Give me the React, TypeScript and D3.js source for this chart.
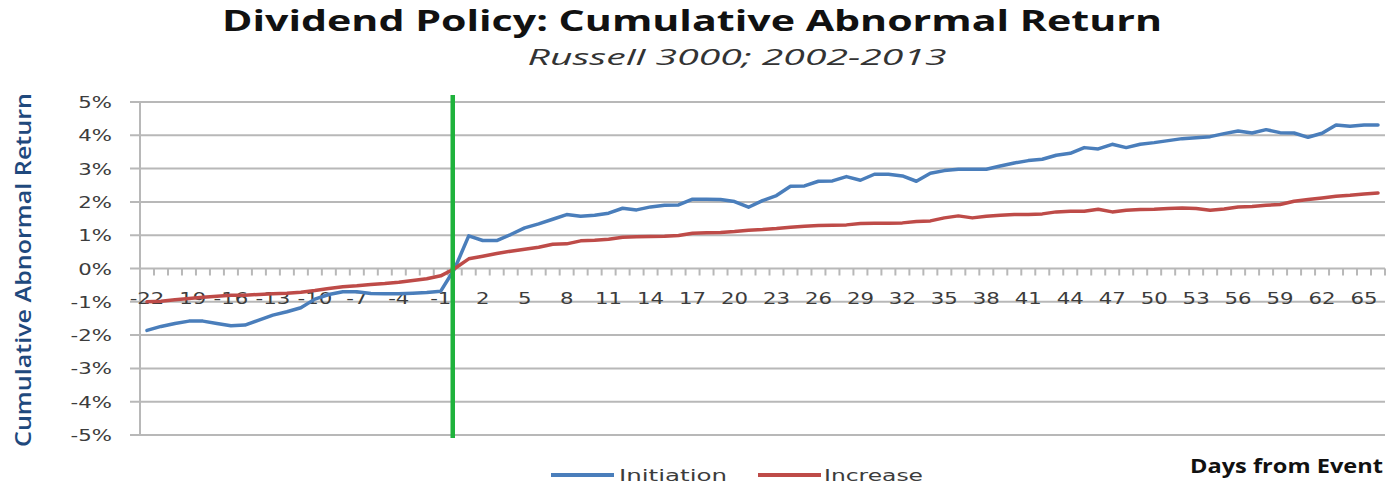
import * as d3 from 'd3'

const DAYS = d3.range(-22, 67)

const INITIATION = [
  -1.86, -1.74, -1.65, -1.58, -1.58, -1.65, -1.72, -1.7, -1.55, -1.4, -1.3, -1.18, -0.92, -0.78, -0.7, -0.7, -0.75, -0.76, -0.76, -0.74, -0.72, -0.68,
  0,
  0.98, 0.84, 0.84, 1.02, 1.22, 1.34, 1.48, 1.62,
  1.57, 1.6, 1.66, 1.81, 1.76, 1.85, 1.9, 1.91, 2.08, 2.08, 2.07, 2.01, 1.84,
  2.04, 2.19, 2.47, 2.48, 2.62, 2.63, 2.76, 2.65, 2.83, 2.83, 2.78, 2.62, 2.86, 2.94, 2.98, 2.98, 2.98,
  3.08, 3.17, 3.24, 3.28, 3.4, 3.46, 3.63, 3.59, 3.73, 3.63, 3.73, 3.78, 3.84, 3.9, 3.93, 3.96,
  4.05, 4.13, 4.07, 4.17, 4.08, 4.07, 3.94, 4.06, 4.31, 4.27, 4.31, 4.31
]

const INCREASE = [
  -1.0, -0.98, -0.94, -0.9, -0.86, -0.83, -0.8, -0.8, -0.78, -0.76, -0.74, -0.71, -0.66, -0.6, -0.55, -0.52, -0.48, -0.45, -0.41, -0.36, -0.31, -0.22,
  0,
  0.29, 0.37, 0.45, 0.52, 0.58, 0.64, 0.73, 0.74, 0.83, 0.85, 0.88, 0.94, 0.95, 0.96, 0.97, 0.99, 1.06, 1.07, 1.08, 1.11,
  1.15, 1.17, 1.2, 1.24, 1.27, 1.29, 1.3, 1.31, 1.35, 1.36, 1.36, 1.37, 1.41, 1.43, 1.52, 1.58, 1.52, 1.57,
  1.6, 1.62, 1.62, 1.64, 1.7, 1.72, 1.72, 1.78, 1.7, 1.75, 1.77, 1.78, 1.8, 1.82, 1.8, 1.75, 1.79, 1.85, 1.86, 1.9,
  1.92, 2.02, 2.07, 2.12, 2.17, 2.2, 2.24, 2.27
]

const Y_TICKS = [5, 4, 3, 2, 1, 0, -1, -2, -3, -4, -5]
const X_LABELS = DAYS.filter((d, i) => i % 3 === 0)
const EVENT_DAY = 0

const SERIES = [
  { name: 'Initiation', values: INITIATION, color: '#4A7EBB' },
  { name: 'Increase', values: INCREASE, color: '#BE4B48' }
]

const W = 1392
const H = 484
const GRID = '#b8b8b8'
const LABEL = '#3c3c3c'
const STRETCH = 1.33

export default function App() {
  const x = d3.scaleBand<number>().domain(DAYS).range([140, 1385])
  const y = d3.scaleLinear().domain([-5, 5]).range([435, 102])
  const cx = (d: number) => (x(d) as number) + x.bandwidth() / 2

  const line = d3.line<number>()
    .x((_, i) => cx(DAYS[i]))
    .y(v => y(v))

  const y0 = y(0)

  return (
    <div style={{ position: 'absolute', left: 0, top: 0 }}>
      <svg width={W} height={H} style={{ display: 'block', background: '#fff' }}>
        {/* titles */}
        <text x={692} y={31} textAnchor="middle" fontFamily="'Open Sans', sans-serif" fontWeight={700}
          fontSize={28} fill="#111" textLength={940} lengthAdjust="spacingAndGlyphs">
          Dividend Policy: Cumulative Abnormal Return
        </text>
        <text x={737} y={65} textAnchor="middle" fontFamily="'Open Sans', sans-serif" fontStyle="italic"
          fontSize={21} fill="#333" textLength={419} lengthAdjust="spacingAndGlyphs">
          Russell 3000; 2002-2013
        </text>

        {/* gridlines + y axis */}
        {Y_TICKS.map(t => (
          <line key={t} x1={130} x2={1385} y1={y(t)} y2={y(t)} stroke={GRID} strokeWidth={2} />
        ))}
        <line x1={140} x2={140} y1={y(5)} y2={y(-5)} stroke={GRID} strokeWidth={2} />
        {Y_TICKS.map(t => (
          <text key={t} transform={`translate(112,${y(t) + 6}) scale(${STRETCH},1)`} textAnchor="end"
            fontFamily="'DejaVu Sans', sans-serif" fontSize={16} fill={LABEL}>
            {t + '%'}
          </text>
        ))}

        {/* category ticks along the 0% line */}
        {DAYS.map(d => (
          <line key={d} x1={x(d)} x2={x(d)} y1={y0} y2={y0 + 7} stroke={GRID} strokeWidth={2} />
        ))}
        <line x1={1385} x2={1385} y1={y0} y2={y0 + 7} stroke={GRID} strokeWidth={2} />
        {X_LABELS.map(d => (
          <text key={d} transform={`translate(${cx(d)},${y0 + 35}) scale(${STRETCH},1)`} textAnchor="middle"
            fontFamily="'DejaVu Sans', sans-serif" fontSize={16} fill={LABEL}>
            {d}
          </text>
        ))}

        {/* series */}
        {SERIES.map(s => (
          <path key={s.name} d={line(s.values) || ''} fill="none" stroke={s.color} strokeWidth={3.5}
            strokeLinejoin="round" strokeLinecap="round" />
        ))}

        {/* event marker */}
        <line x1={cx(EVENT_DAY) - 2} x2={cx(EVENT_DAY) - 2} y1={95} y2={438} stroke="#1FB23C" strokeWidth={4.5} />

        {/* y title */}
        <text transform="translate(31,270) rotate(-90)" textAnchor="middle" fontFamily="'Open Sans', sans-serif"
          fontWeight={600} fontSize={21} fill="#1F497D" textLength={354} lengthAdjust="spacingAndGlyphs">
          Cumulative Abnormal Return
        </text>

        {/* legend */}
        <line x1={551} x2={614} y1={475} y2={475} stroke={SERIES[0].color} strokeWidth={4} />
        <text x={619} y={481} fontFamily="'DejaVu Sans', sans-serif" fontSize={16} fill={LABEL}
          textLength={108} lengthAdjust="spacingAndGlyphs">Initiation</text>
        <line x1={758} x2={821} y1={475} y2={475} stroke={SERIES[1].color} strokeWidth={4} />
        <text x={824} y={481} fontFamily="'DejaVu Sans', sans-serif" fontSize={16} fill={LABEL}
          textLength={99} lengthAdjust="spacingAndGlyphs">Increase</text>

        <text x={1383} y={473} textAnchor="end" fontFamily="'Open Sans', sans-serif" fontWeight={700}
          fontSize={20} fill="#111" textLength={193} lengthAdjust="spacingAndGlyphs">
          Days from Event
        </text>
      </svg>
    </div>
  )
}
